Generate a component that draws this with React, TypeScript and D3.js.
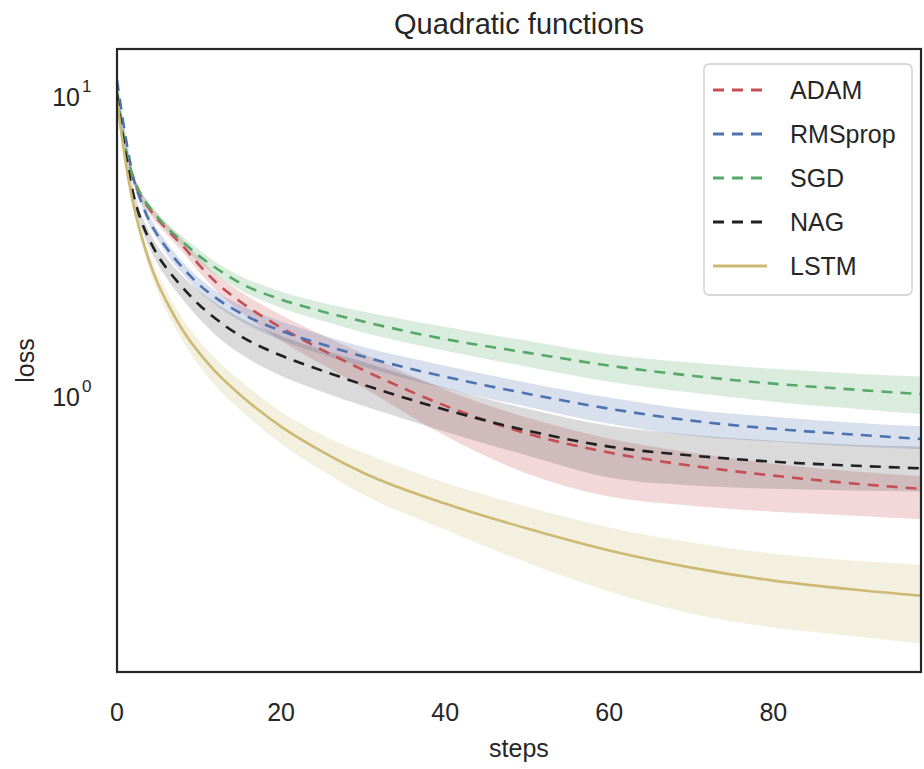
import React from 'react';
import * as d3 from 'd3';

const steps = [0, 1, 2, 3, 4, 5, 6, 8, 10, 12, 15, 20, 25, 30, 40, 50, 60, 70, 80, 90, 99];

const adamMean = [9.92, 6.61, 5.17, 4.5, 4.11, 3.8, 3.55, 3.11, 2.69, 2.36, 2.03, 1.66, 1.4, 1.2, 0.912, 0.736, 0.636, 0.575, 0.533, 0.501, 0.479];
const adamUpper = [10.31, 6.87, 5.37, 4.68, 4.27, 3.95, 3.69, 3.26, 2.84, 2.51, 2.19, 1.83, 1.57, 1.36, 1.031, 0.832, 0.708, 0.636, 0.584, 0.55, 0.529];
const adamLower = [9.55, 6.36, 4.97, 4.33, 3.95, 3.66, 3.41, 2.97, 2.55, 2.22, 1.88, 1.5, 1.25, 1.047, 0.724, 0.541, 0.454, 0.423, 0.404, 0.392, 0.38];

const rmsMean = [11.13, 7.3, 5.25, 4.33, 3.74, 3.36, 3.07, 2.63, 2.31, 2.09, 1.86, 1.62, 1.46, 1.33, 1.139, 1.0, 0.891, 0.813, 0.764, 0.73, 0.703];
const rmsUpper = [11.48, 7.53, 5.41, 4.47, 3.89, 3.5, 3.21, 2.75, 2.43, 2.2, 1.98, 1.74, 1.57, 1.43, 1.24, 1.088, 0.97, 0.884, 0.838, 0.8, 0.776];
const rmsLower = [10.8, 7.08, 5.09, 4.2, 3.6, 3.24, 2.93, 2.51, 2.19, 1.98, 1.75, 1.51, 1.35, 1.23, 1.039, 0.905, 0.794, 0.724, 0.692, 0.666, 0.651];

const sgdMean = [10.15, 6.71, 5.25, 4.57, 4.17, 3.86, 3.6, 3.21, 2.88, 2.63, 2.34, 2.06, 1.88, 1.74, 1.52, 1.37, 1.24, 1.148, 1.08, 1.031, 0.992];
const sgdUpper = [10.47, 6.92, 5.41, 4.71, 4.3, 3.98, 3.72, 3.34, 3.02, 2.75, 2.47, 2.19, 2.01, 1.88, 1.67, 1.5, 1.35, 1.27, 1.21, 1.166, 1.139];
const sgdLower = [9.85, 6.51, 5.09, 4.43, 4.04, 3.74, 3.5, 3.09, 2.75, 2.49, 2.22, 1.93, 1.75, 1.6, 1.39, 1.23, 1.096, 1.008, 0.94, 0.891, 0.851];

const nagMean = [9.92, 6.41, 4.61, 3.74, 3.24, 2.88, 2.63, 2.26, 1.98, 1.78, 1.56, 1.34, 1.193, 1.072, 0.884, 0.753, 0.666, 0.622, 0.593, 0.575, 0.562];
const nagUpper = [10.31, 6.66, 4.83, 3.95, 3.44, 3.09, 2.84, 2.47, 2.2, 2.01, 1.79, 1.56, 1.4, 1.278, 1.047, 0.891, 0.782, 0.73, 0.697, 0.676, 0.666];
const nagLower = [9.55, 6.17, 4.4, 3.55, 3.04, 2.69, 2.44, 2.06, 1.78, 1.57, 1.36, 1.148, 1.015, 0.912, 0.747, 0.622, 0.525, 0.494, 0.482, 0.475, 0.471];

const lstmMean = [9.55, 6.03, 4.27, 3.34, 2.73, 2.32, 2.04, 1.63, 1.37, 1.184, 0.992, 0.776, 0.641, 0.545, 0.43, 0.355, 0.3, 0.263, 0.238, 0.222, 0.211];
const lstmUpper = [9.85, 6.26, 4.47, 3.52, 2.91, 2.49, 2.2, 1.78, 1.5, 1.31, 1.105, 0.871, 0.73, 0.636, 0.505, 0.42, 0.358, 0.319, 0.293, 0.277, 0.268];
const lstmLower = [9.26, 5.8, 4.07, 3.16, 2.57, 2.17, 1.89, 1.5, 1.24, 1.063, 0.884, 0.681, 0.554, 0.461, 0.352, 0.273, 0.219, 0.185, 0.166, 0.155, 0.146];

const seriesNames = ['ADAM', 'RMSprop', 'SGD', 'NAG', 'LSTM'];
const xTicks = [0, 20, 40, 60, 80];
const yTicks = [1, 10];

const series = [
  { name: seriesNames[0], color: '#c44e52', dashed: true, mean: adamMean, upper: adamUpper, lower: adamLower },
  { name: seriesNames[1], color: '#4c72b0', dashed: true, mean: rmsMean, upper: rmsUpper, lower: rmsLower },
  { name: seriesNames[2], color: '#55a868', dashed: true, mean: sgdMean, upper: sgdUpper, lower: sgdLower },
  { name: seriesNames[3], color: '#1f1f1f', dashed: true, mean: nagMean, upper: nagUpper, lower: nagLower },
  { name: seriesNames[4], color: '#ccb974', dashed: false, mean: lstmMean, upper: lstmUpper, lower: lstmLower },
];

const bandColors = ['#c44e52', '#4c72b0', '#55a868', '#555555', '#ccb974'];

const font = '"Liberation Sans", Arial, sans-serif';
const textColor = '#262626';

export default function App() {
  const left = 117;
  const right = 921;
  const top = 49;
  const bottom = 672;

  const x = d3.scaleLinear().domain([0, 98]).range([left, right]);
  const y = d3.scaleLog().domain([0.118, 14.1]).range([bottom, top]);

  const line = d3.line<number>()
    .x((_, i) => x(steps[i]))
    .y(d => y(d))
    .curve(d3.curveMonotoneX);

  const band = (s: typeof series[0]) => d3.area<number>()
    .x((_, i) => x(steps[i]))
    .y0((_, i) => y(s.lower[i]))
    .y1((_, i) => y(s.upper[i]))
    .curve(d3.curveMonotoneX)(s.mean);

  return (
    <svg width={924} height={769} style={{ position: 'absolute', left: 0, top: 0, background: '#fff' }}
      fontFamily={font}>
      <defs>
        <clipPath id="plot">
          <rect x={left} y={top} width={right - left} height={bottom - top} />
        </clipPath>
      </defs>
      <rect x={0} y={0} width={924} height={769} fill="#fff" />

      <g clipPath="url(#plot)">
        {series.map((s, i) => (
          <path key={`b-${s.name}`} d={band(s) || ''} fill={bandColors[i]} fillOpacity={0.22} stroke="none" />
        ))}
        {series.map(s => (
          <path key={`l-${s.name}`} d={line(s.mean) || ''} fill="none" stroke={s.color}
            strokeWidth={2.6} strokeDasharray={s.dashed ? '11,8' : undefined} />
        ))}
      </g>

      {/* frame */}
      <rect x={left} y={top} width={right - left} height={bottom - top} fill="none" stroke={textColor} strokeWidth={2.2} />

      {/* x ticks */}
      {xTicks.map(t => (
        <text key={`x${t}`} x={x(t)} y={721} textAnchor="middle" fontSize={25} fill={textColor}>{t}</text>
      ))}
      {/* y ticks */}
      {yTicks.map(t => (
        <text key={`y${t}`} x={80} y={y(t) + 12} textAnchor="end" fontSize={25} fill={textColor}>
          10
          <tspan x={82} y={y(t) - 2} fontSize={17} textAnchor="start">{Math.round(Math.log10(t))}</tspan>
        </text>
      ))}

      <text x={(left + right) / 2} y={34} textAnchor="middle" fontSize={29} fill={textColor}>Quadratic functions</text>
      <text x={(left + right) / 2} y={757} textAnchor="middle" fontSize={25} fill={textColor}>steps</text>
      <text transform={`translate(34,${(top + bottom) / 2}) rotate(-90)`} textAnchor="middle" fontSize={25} fill={textColor}>loss</text>

      {/* legend */}
      <g>
        <rect x={704} y={64} width={208} height={231} rx={5} fill="#fff" fillOpacity={0.8} stroke="#cccccc" strokeWidth={1.3} />
        {series.map((s, i) => {
          const cy = 90 + i * 44;
          return (
            <g key={`lg-${s.name}`}>
              <line x1={713} x2={767} y1={cy} y2={cy} stroke={s.color} strokeWidth={3}
                strokeDasharray={s.dashed ? '11,8' : undefined} />
              <text x={790} y={cy + 9} fontSize={25} fill={textColor}>{s.name}</text>
            </g>
          );
        })}
      </g>
    </svg>
  );
}
